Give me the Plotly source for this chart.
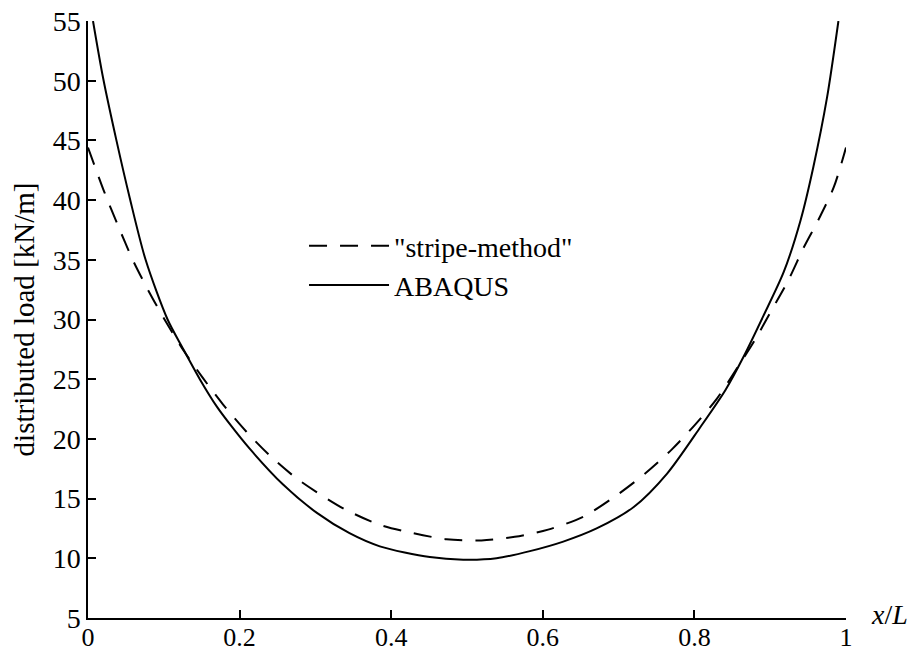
import plotly.graph_objects as go

# ABAQUS (solid)
x_abaqus = [0.0066, 0.02, 0.0375, 0.055, 0.076, 0.105, 0.125, 0.1475, 0.17, 0.19,
            0.213, 0.257, 0.302, 0.345, 0.385, 0.451, 0.495, 0.539, 0.583, 0.627,
            0.671, 0.72, 0.764, 0.808, 0.841, 0.865, 0.891, 0.918, 0.940, 0.957,
            0.975, 0.990]
y_abaqus = [55, 50.2, 45.0, 40.2, 35.0, 30.0, 27.6, 25.0, 22.7, 21.0,
            19.2, 16.2, 13.8, 12.1, 11.0, 10.1, 9.88, 10.0, 10.6, 11.4,
            12.5, 14.3, 17.1, 21.0, 24.1, 26.9, 30.3, 34.0, 38.3, 42.8,
            48.6, 55]

# "stripe-method" (dashed)
x_stripe = [0, 0.022, 0.04, 0.059, 0.079, 0.101, 0.123, 0.151, 0.178, 0.209,
            0.24, 0.275, 0.310, 0.339, 0.385, 0.429, 0.473, 0.519, 0.563, 0.607,
            0.654, 0.699, 0.735, 0.770, 0.801, 0.830, 0.857, 0.880, 0.902, 0.924,
            0.944, 0.964, 0.984, 1.0]
y_stripe = [44.4, 40.6, 37.8, 35.0, 32.5, 30.0, 27.7, 25.15, 22.9, 20.6,
            18.6, 16.7, 15.2, 14.1, 12.8, 12.1, 11.6, 11.5, 11.8, 12.4,
            13.5, 15.35, 17.1, 19.1, 21.2, 23.4, 26.0, 28.3, 30.8, 33.3,
            36.0, 38.4, 41.1, 44.4]

x_ticks = [0, 0.2, 0.4, 0.6, 0.8, 1]
x_ticklabels = ["0", "0.2", "0.4", "0.6", "0.8", "1"]
y_ticks = [5, 10, 15, 20, 25, 30, 35, 40, 45, 50, 55]

FONT = "Liberation Serif"

fig = go.Figure()
fig.add_trace(go.Scatter(x=x_stripe, y=y_stripe, mode="lines", name='"stripe-method"',
                         line=dict(color="black", width=2, dash="18px,13px", shape="spline", smoothing=0.8)))
fig.add_trace(go.Scatter(x=x_abaqus, y=y_abaqus, mode="lines", name="ABAQUS",
                         line=dict(color="black", width=2, shape="spline", smoothing=0.8)))

fig.update_layout(
    width=919, height=652,
    margin=dict(l=88, r=73, t=21, b=34),
    paper_bgcolor="white", plot_bgcolor="white",
    font=dict(family=FONT, size=28, color="black"),
    showlegend=True,
    legend=dict(x=0.285, y=0.665, xanchor="left", yanchor="top",
                bgcolor="rgba(0,0,0,0)", borderwidth=0,
                itemwidth=80, tracegroupgap=0,
                font=dict(family=FONT, size=28, color="black")),
    xaxis=dict(range=[0, 1], tickvals=x_ticks, ticktext=x_ticklabels, automargin=False,
               showgrid=False, zeroline=False, showline=True, linecolor="black", linewidth=1.5,
               ticks="inside", ticklen=8, tickwidth=1.5, tickcolor="black",
               ticklabelstandoff=-5,
               tickfont=dict(family=FONT, size=26, color="black")),
    yaxis=dict(range=[5, 55], tickvals=y_ticks, automargin=False,
               showgrid=False, zeroline=False, showline=True, linecolor="black", linewidth=1.5,
               ticks="inside", ticklen=8, tickwidth=1.5, tickcolor="black",
               tickfont=dict(family=FONT, size=28, color="black"),
               title=dict(text="distributed load [kN/m]", font=dict(family=FONT, size=29, color="black"),
                          standoff=10)),
)

fig.add_annotation(text="<i>x</i>/<i>L</i>", xref="paper", yref="paper", x=1.03, y=0.0,
                   xanchor="left", yanchor="middle", yshift=4, showarrow=False,
                   font=dict(family=FONT, size=28, color="black"))

fig.write_html("out.html")
